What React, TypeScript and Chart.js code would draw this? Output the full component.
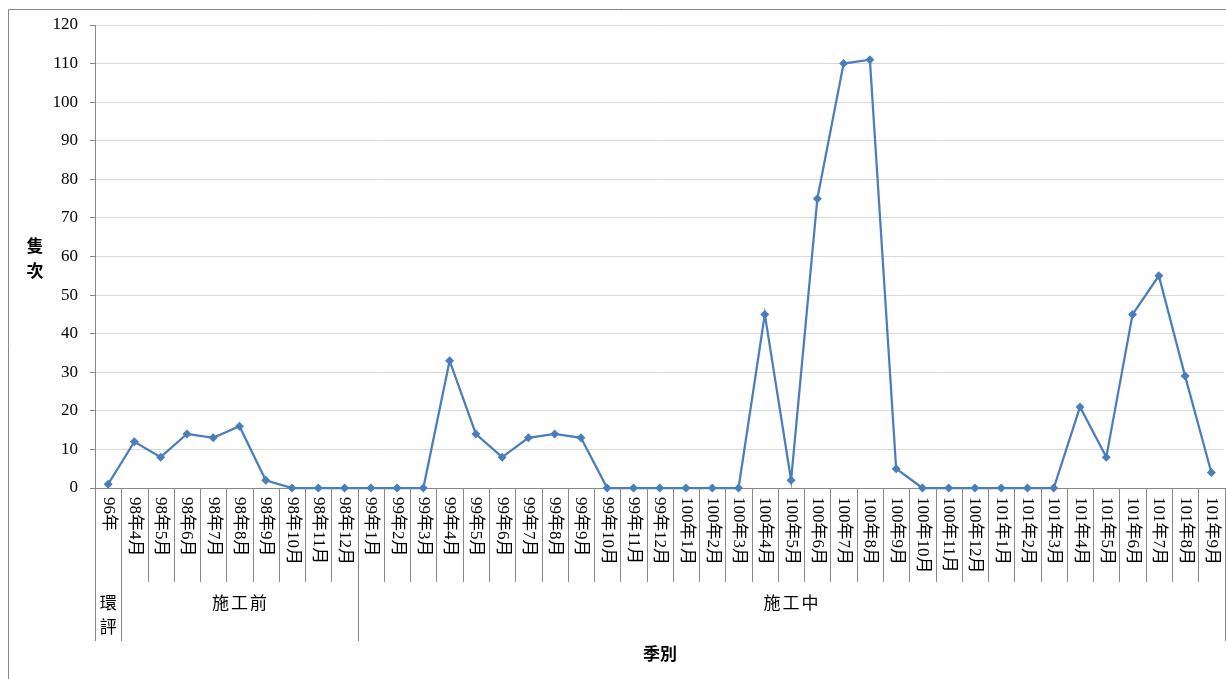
import React, { useEffect, useRef } from "react";
import { Chart, registerables } from "chart.js";

Chart.register(...registerables);

const categories: string[] = [
  "96年",
  "98年4月", "98年5月", "98年6月", "98年7月", "98年8月", "98年9月", "98年10月", "98年11月", "98年12月",
  "99年1月", "99年2月", "99年3月", "99年4月", "99年5月", "99年6月", "99年7月", "99年8月", "99年9月", "99年10月", "99年11月", "99年12月",
  "100年1月", "100年2月", "100年3月", "100年4月", "100年5月", "100年6月", "100年7月", "100年8月", "100年9月", "100年10月", "100年11月", "100年12月",
  "101年1月", "101年2月", "101年3月", "101年4月", "101年5月", "101年6月", "101年7月", "101年8月", "101年9月",
];

const counts: number[] = [
  1,
  12, 8, 14, 13, 16, 2, 0, 0, 0,
  0, 0, 0, 33, 14, 8, 13, 14, 13, 0, 0, 0,
  0, 0, 0, 45, 2, 75, 110, 111, 5, 0, 0, 0,
  0, 0, 0, 21, 8, 45, 55, 29, 4,
];

// groups: label, first index, last index
const groupLabels: string[] = ["環評", "施工前", "施工中"];
const groupStarts: number[] = [0, 1, 10];
const groupEnds: number[] = [0, 9, 42];
const groupVertical: boolean[] = [true, false, false];

const yTitle = "隻次";
const xTitle = "季別";

const FONT = '"Liberation Serif", "Noto Sans CJK TC", serif';
const LINE = "#4A7EBB";
const AXIS = "#888888";
const CANVAS_W = 1229;

const decorPlugin = {
  id: "decor",
  beforeDraw(chart: any) {
    const ctx = chart.ctx;
    ctx.save();
    ctx.strokeStyle = AXIS;
    ctx.lineWidth = 1;
    ctx.beginPath();
    ctx.moveTo(8.5, chart.height);
    ctx.lineTo(8.5, 9.5);
    ctx.lineTo(chart.width, 9.5);
    ctx.stroke();
    ctx.restore();
  },
  afterDraw(chart: any) {
    const ctx = chart.ctx;
    const xs = chart.scales.x;
    const area = chart.chartArea;
    const n = categories.length;
    const bottom = area.bottom;
    const row1 = 582;
    const row2 = 641;
    const boundary = (i: number) => {
      if (i <= 0) return area.left;
      if (i >= n) return area.right;
      return (xs.getPixelForValue(i - 1) + xs.getPixelForValue(i)) / 2;
    };
    ctx.save();
    ctx.strokeStyle = AXIS;
    ctx.lineWidth = 1;
    // category separators
    for (let i = 0; i <= n; i++) {
      const x = Math.round(boundary(i)) + 0.5;
      const isGroupEdge = groupStarts.includes(i) || i === n;
      ctx.beginPath();
      ctx.moveTo(x, bottom);
      ctx.lineTo(x, isGroupEdge ? row2 : row1);
      ctx.stroke();
    }
    // category labels, rotated clockwise
    ctx.fillStyle = "#000";
    ctx.font = "17px " + FONT;
    ctx.textAlign = "left";
    ctx.textBaseline = "middle";
    for (let i = 0; i < n; i++) {
      const x = xs.getPixelForValue(i);
      ctx.save();
      ctx.translate(x, bottom + 9);
      ctx.rotate(Math.PI / 2);
      ctx.fillText(categories[i], 0, 0);
      ctx.restore();
    }
    // group labels
    ctx.textAlign = "center";
    ctx.font = "17px " + FONT;
    for (let g = 0; g < groupLabels.length; g++) {
      const cx = (boundary(groupStarts[g]) + boundary(groupEnds[g] + 1)) / 2;
      const chars = Array.from(groupLabels[g]);
      if (groupVertical[g]) {
        chars.forEach((c, k) => ctx.fillText(c, cx, 605 + k * 24));
      } else {
        const step = 19;
        const start = cx - ((chars.length - 1) * step) / 2;
        chars.forEach((c, k) => ctx.fillText(c, start + k * step, 605));
      }
    }
    // axis titles
    ctx.font = "bold 17px " + FONT;
    Array.from(yTitle).forEach((c, k) => ctx.fillText(c, 35, 248 + k * 25));
    ctx.fillText(xTitle, 660, 656);
    ctx.restore();
  },
};

export default function App() {
  const ref = useRef<HTMLCanvasElement | null>(null);
  useEffect(() => {
    if (!ref.current) return;
    const chart = new Chart(ref.current, {
      type: "line",
      data: {
        labels: categories,
        datasets: [
          {
            data: counts,
            borderColor: LINE,
            backgroundColor: LINE,
            borderWidth: 2.25,
            pointStyle: "rectRot",
            pointRadius: 4.5,
            pointBorderWidth: 0,
            pointBackgroundColor: LINE,
            tension: 0,
            clip: false as any,
          },
        ],
      },
      options: {
        animation: false,
        responsive: false,
        maintainAspectRatio: false,
        layout: { padding: { left: 20, right: 2, top: 25, bottom: 191 } },
        plugins: { legend: { display: false }, tooltip: { enabled: false } },
        scales: {
          x: {
            offset: true,
            grid: { display: false },
            ticks: { display: false },
            border: { display: true, color: AXIS, width: 1 },
            afterFit: (s: any) => { s.height = 0; },
          },
          y: {
            min: 0,
            max: 120,
            ticks: {
              stepSize: 10,
              color: "#000",
              font: { family: FONT, size: 17 },
              padding: 12,
            },
            grid: { color: "#d9d9d9", tickColor: AXIS, tickLength: 5, lineWidth: 1 },
            border: { display: true, color: AXIS, width: 1 },
            afterFit: (s: any) => { s.width = 75; },
          },
        },
      },
      plugins: [decorPlugin],
    });
    return () => chart.destroy();
  }, []);
  return (
    <div style={{ position: "fixed", left: 0, top: 0, width: 1226, height: 679, overflow: "hidden", background: "#fff" }}>
      <canvas ref={ref} width={CANVAS_W} height={679} style={{ width: CANVAS_W, height: 679, display: "block" }} />
    </div>
  );
}
